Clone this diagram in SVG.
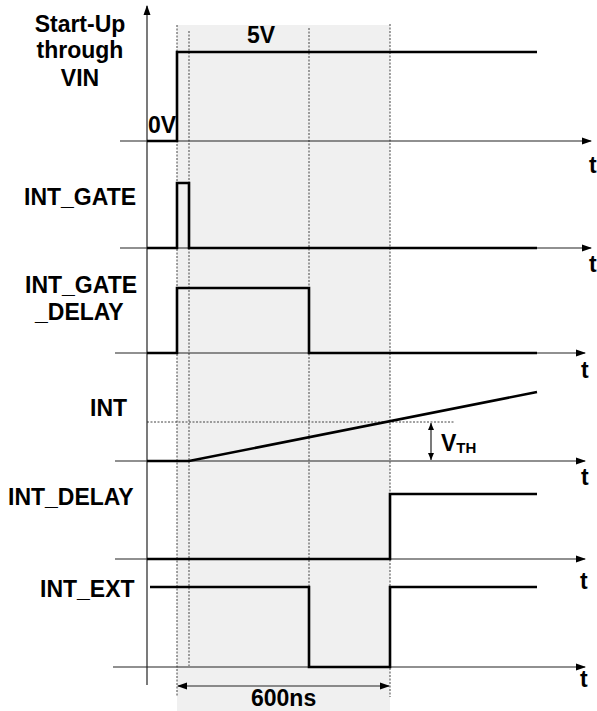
<svg xmlns="http://www.w3.org/2000/svg" width="597" height="711" viewBox="0 0 597 711">
<defs>
<style>
.lbl{font-family:"Liberation Sans",Arial,sans-serif;font-weight:bold;font-size:23px;fill:#000}
.ax{stroke:#222;stroke-width:1.2;fill:none}
.sig{stroke:#000;stroke-width:2.6;fill:none;stroke-linejoin:miter}
.dot{stroke:#444;stroke-width:1;stroke-dasharray:2,1.5;fill:none}
</style>
<marker id="ah" markerWidth="10" markerHeight="8" refX="9" refY="4" orient="auto" markerUnits="userSpaceOnUse">
<path d="M0,0.5 L10,4 L0,7.5 Z" fill="#000"/>
</marker>
<marker id="ahs" markerWidth="10" markerHeight="8" refX="9" refY="4" orient="auto-start-reverse" markerUnits="userSpaceOnUse">
<path d="M0,0.5 L10,4 L0,7.5 Z" fill="#000"/>
</marker>
<marker id="ahsm" markerWidth="7" markerHeight="6" refX="7" refY="3" orient="auto-start-reverse" markerUnits="userSpaceOnUse">
<path d="M0,0 L7,3 L0,6 Z" fill="#000"/>
</marker>
</defs>
<rect width="597" height="711" fill="#fff"/>
<rect id="window" x="177" y="25" width="213" height="686" fill="#f0f0f0"/>
<g id="guides">
<line class="dot" x1="177" y1="25" x2="177" y2="697"/>
<line class="dot" x1="189" y1="31" x2="189" y2="666"/>
<line class="dot" x1="309" y1="28" x2="309" y2="666"/>
<line class="dot" x1="390" y1="24" x2="390" y2="697"/>
<line class="dot" x1="147" y1="422" x2="455" y2="422"/>
</g>
<g id="connectors">
<line class="ax" x1="147" y1="685" x2="147" y2="6" marker-end="url(#ah)"/>
<line class="ax" x1="120" y1="141" x2="591" y2="141" marker-end="url(#ah)"/>
<line class="ax" x1="120" y1="248" x2="591" y2="248" marker-end="url(#ah)"/>
<line class="ax" x1="115" y1="353" x2="585" y2="353" marker-end="url(#ah)"/>
<line class="ax" x1="115" y1="461" x2="585" y2="461" marker-end="url(#ah)"/>
<line class="ax" x1="115" y1="559" x2="585" y2="559" marker-end="url(#ah)"/>
<line class="ax" x1="113" y1="667" x2="585" y2="667" marker-end="url(#ah)"/>
<line class="ax" x1="178" y1="686" x2="389" y2="686" marker-start="url(#ahs)" marker-end="url(#ahs)"/>
<line class="ax" x1="431" y1="423" x2="431" y2="460" marker-start="url(#ahsm)" marker-end="url(#ahsm)"/>
</g>
<g id="vin">
<polyline class="sig" points="147,141 177,141 177,52 537,52"/>
<text class="lbl" x="80" y="32" text-anchor="middle">Start-Up</text>
<text class="lbl" x="80" y="58" text-anchor="middle">through</text>
<text class="lbl" x="80" y="86" text-anchor="middle">VIN</text>
<text class="lbl" x="247" y="43">5V</text>
<text class="lbl" x="148" y="133">0V</text>
</g>
<g id="int_gate">
<polyline class="sig" points="147,248 177,248 177,183 189,183 189,248 537,248"/>
<text class="lbl" x="24" y="205">INT_GATE</text>
</g>
<g id="int_gate_delay">
<polyline class="sig" points="147,353 177,353 177,288 309,288 309,353 537,353"/>
<text class="lbl" x="25" y="293">INT_GATE</text>
<text class="lbl" x="35" y="320">_DELAY</text>
</g>
<g id="int">
<polyline class="sig" points="147,461 189,461 537,392"/>
<text class="lbl" x="90" y="416">INT</text>
<text class="lbl" x="441" y="451">V<tspan font-size="15" dy="2">TH</tspan></text>
</g>
<g id="int_delay">
<polyline class="sig" points="147,559 390,559 390,494 537,494"/>
<text class="lbl" x="8" y="505">INT_DELAY</text>
</g>
<g id="int_ext">
<polyline class="sig" points="150,587 309,587 309,667 390,667 390,587 537,587"/>
<text class="lbl" x="40" y="597">INT_EXT</text>
</g>
<g id="t_labels">
<text class="lbl" x="589" y="173">t</text>
<text class="lbl" x="589" y="272">t</text>
<text class="lbl" x="581" y="378">t</text>
<text class="lbl" x="581" y="485">t</text>
<text class="lbl" x="580" y="589">t</text>
<text class="lbl" x="580" y="687">t</text>
</g>
<g id="duration">
<text class="lbl" x="251" y="706">600ns</text>
</g>
</svg>
